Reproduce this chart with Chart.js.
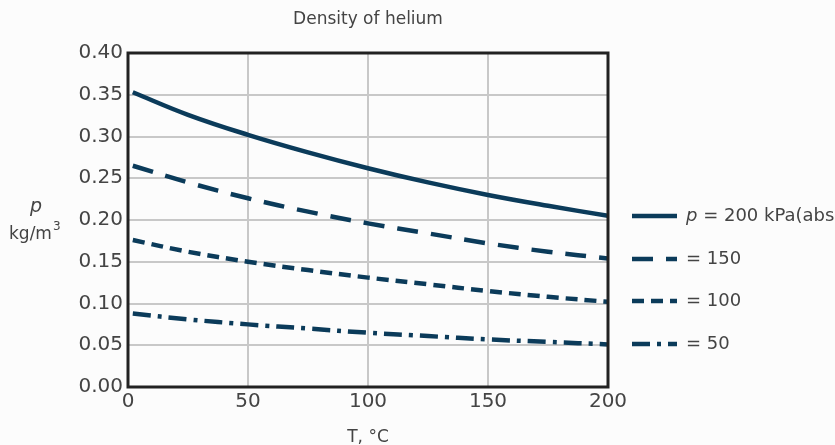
<!DOCTYPE html>
<html>
<head>
<meta charset="utf-8">
<script src="https://cdn.jsdelivr.net/npm/chart.js@4"></script>
<style>
  body { margin: 0; background: #fcfcfc; }
  #wrap { width: 835px; height: 445px; }
</style>
</head>
<body>
<div id="wrap"><canvas id="myChart"></canvas></div>
<script>
// temperatures, °C
const temps = [2, 25, 50, 75, 100, 125, 150, 175, 200];

// density in kg/m3 for each pressure
const rho200 = [0.353, 0.326, 0.302, 0.281, 0.262, 0.245, 0.230, 0.217, 0.205];
const rho150 = [0.265, 0.245, 0.226, 0.210, 0.196, 0.184, 0.172, 0.162, 0.154];
const rho100 = [0.176, 0.162, 0.150, 0.140, 0.131, 0.123, 0.115, 0.108, 0.102];
const rho50  = [0.088, 0.081, 0.075, 0.070, 0.065, 0.061, 0.057, 0.054, 0.051];

const legendLabels = ['= 200 kPa(abs', '= 150', '= 100', '= 50'];
const yTicks = [0, 0.05, 0.10, 0.15, 0.20, 0.25, 0.30, 0.35, 0.40];
const xTicks = [0, 50, 100, 150, 200];

const navy = '#0b3b5a';
const textColor = '#444';
const font = '"DejaVu Sans", sans-serif';

const dashes = [[], [21, 13], [12, 7], [18, 7, 4, 7]];

function makeSet(values, i) {
  return {
    label: legendLabels[i],
    data: temps.map((t, k) => ({ x: t, y: values[k] })),
    borderColor: navy,
    borderWidth: 4.5,
    borderDash: dashes[i],
    pointRadius: 0,
    tension: 0.4,
    fill: false
  };
}

// draws title, y label, frame and legend
const extras = {
  id: 'extras',
  afterDraw(chart) {
    const ctx = chart.ctx;
    const a = chart.chartArea;
    ctx.save();

    // frame around the plot
    ctx.strokeStyle = '#222';
    ctx.lineWidth = 3;
    ctx.strokeRect(a.left, a.top, a.right - a.left, a.bottom - a.top);

    // title
    ctx.fillStyle = textColor;
    ctx.font = '17px ' + font;
    ctx.textAlign = 'center';
    ctx.textBaseline = 'middle';
    ctx.fillText('Density of helium', (a.left + a.right) / 2, 20);

    // y label
    ctx.font = 'italic 19px ' + font;
    ctx.fillText('p', 36, 207);
    ctx.font = '17px ' + font;
    ctx.textAlign = 'left';
    ctx.fillText('kg/m', 9, 235);
    const w = ctx.measureText('kg/m').width;
    ctx.font = '12px ' + font;
    ctx.fillText('3', 9 + w + 1, 227);

    // legend
    const ys = [216, 259, 301, 344];
    ctx.font = '18px ' + font;
    chart.data.datasets.forEach((ds, i) => {
      ctx.strokeStyle = navy;
      ctx.lineWidth = 4.5;
      ctx.setLineDash(ds.borderDash);
      ctx.beginPath();
      ctx.moveTo(632, ys[i]);
      ctx.lineTo(677, ys[i]);
      ctx.stroke();
      ctx.setLineDash([]);
      let x = 686;
      if (i === 0) {
        ctx.font = 'italic 18px ' + font;
        ctx.fillText('p', x, ys[i]);
        x += ctx.measureText('p ').width;
        ctx.font = '18px ' + font;
      }
      ctx.fillText(ds.label, x, ys[i]);
    });
    ctx.restore();
  }
};

const ctx = document.getElementById('myChart').getContext('2d');
new Chart(ctx, {
  type: 'line',
  data: {
    datasets: [
      makeSet(rho200, 0),
      makeSet(rho150, 1),
      makeSet(rho100, 2),
      makeSet(rho50, 3)
    ]
  },
  options: {
    responsive: true,
    maintainAspectRatio: false,
    animation: false,
    layout: { padding: { top: 53, right: 227, left: 0, bottom: 0 } },
    plugins: {
      legend: { display: false },
      tooltip: { enabled: false }
    },
    scales: {
      x: {
        type: 'linear',
        min: 0,
        max: 200,
        afterBuildTicks: axis => { axis.ticks = xTicks.map(v => ({ value: v })); },
        afterFit: axis => { axis.height = 58; },
        grid: { color: '#c8c8c8', lineWidth: 2, drawTicks: false },
        border: { display: false },
        ticks: { color: textColor, font: { family: font, size: 20 }, padding: 3 },
        title: {
          display: true,
          text: 'T, \u00B0C',
          color: textColor,
          font: { family: font, size: 17 },
          padding: { top: 4, bottom: -3 }
        }
      },
      y: {
        min: 0,
        max: 0.40,
        afterBuildTicks: axis => { axis.ticks = yTicks.map(v => ({ value: v })); },
        afterFit: axis => { axis.width = 128; },
        grid: { color: '#c8c8c8', lineWidth: 2, drawTicks: false },
        border: { display: false },
        ticks: {
          color: textColor,
          font: { family: font, size: 20 },
          padding: 5,
          callback: v => v.toFixed(2)
        }
      }
    }
  },
  plugins: [extras]
});
</script>
</body>
</html>
